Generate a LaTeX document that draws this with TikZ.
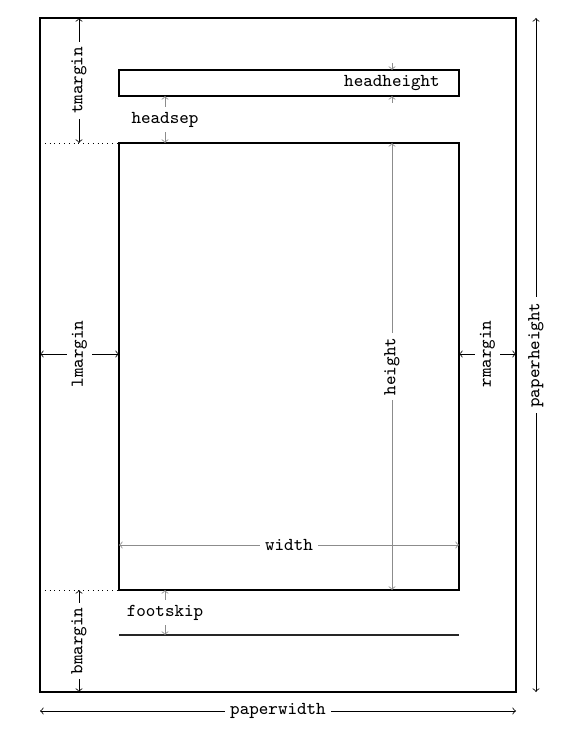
\documentclass[tikz,border=0pt]{standalone}
\begin{document}
\begin{tikzpicture}[
  x=0.5pt, y=-0.5pt,
  font=\fontsize{9.1}{11}\selectfont\ttfamily,
  frame/.style={draw, line width=1pt},
  margindim/.style={<->, black},
  innerdim/.style={<->, black!45},
  lbl/.style={fill=white, text=black, inner sep=2.5pt},
]
\useasboundingbox (0,0) rectangle (568,731);

% --- Paper, header, body and footer ---
\coordinate (paperNW) at (40,18);
\coordinate (paperSE) at (516,692);
\draw[frame] (paperNW) rectangle (paperSE);

\coordinate (headNW) at (119,70);
\coordinate (headSE) at (459,96);
\draw[frame] (headNW) rectangle (headSE);

\coordinate (bodyNW) at (119,143);
\coordinate (bodySW) at (119,590);
\coordinate (bodySE) at (459,590);
\draw[frame] (bodyNW) rectangle (bodySE);

\coordinate (footW) at (119,635);
\coordinate (footE) at (459,635);
\draw[line width=0.8pt, black!85] (footW) -- (footE);

% Dotted guides from the paper edge to the body
\coordinate (tGuide) at (40,143);
\coordinate (bGuide) at (40,590);
\draw[dotted] (tGuide) -- (bodyNW);
\draw[dotted] (bGuide) -- (bodySW);

% --- Margins and paper size ---
\coordinate (tmTop) at (79,18);
\coordinate (tmBot) at (79,143);
\draw[margindim] (tmTop) -- node[lbl, rotate=90] (tmarginLbl) {tmargin} (tmBot);

\coordinate (bmTop) at (79,590);
\coordinate (bmBot) at (79,692);
\draw[margindim] (bmTop) -- node[lbl, rotate=90] (bmarginLbl) {bmargin} (bmBot);

\coordinate (lmL) at (40,354);
\coordinate (lmR) at (119,354);
\draw[margindim] (lmL) -- node[lbl, rotate=90] (lmarginLbl) {lmargin} (lmR);

\coordinate (rmL) at (459,354);
\coordinate (rmR) at (516,354);
\draw[margindim] (rmL) -- node[lbl, rotate=90] (rmarginLbl) {rmargin} (rmR);

\coordinate (phTop) at (536,18);
\coordinate (phBot) at (536,692);
\draw[margindim] (phTop) -- node[lbl, rotate=90] (paperheightLbl) {paperheight} (phBot);

\coordinate (pwL) at (40,711);
\coordinate (pwR) at (516,711);
\draw[margindim] (pwL) -- node[lbl] (paperwidthLbl) {paperwidth} (pwR);

% --- Body dimensions ---
\coordinate (htTop) at (392,143);
\coordinate (htBot) at (392,590);
\draw[innerdim] (htTop) -- node[lbl, rotate=90] (heightLbl) {height} (htBot);

\coordinate (wdL) at (119,545);
\coordinate (wdR) at (459,545);
\draw[innerdim] (wdL) -- node[lbl] (widthLbl) {width} (wdR);

\coordinate (hsTop) at (165,96);
\coordinate (hsBot) at (165,143);
\draw[innerdim] (hsTop) -- node[lbl] (headsepLbl) {headsep} (hsBot);

\coordinate (fsTop) at (165,590);
\coordinate (fsBot) at (165,635);
\draw[innerdim] (fsTop) -- node[lbl] (footskipLbl) {footskip} (fsBot);

% headheight: short inward arrows on the header box
\coordinate (hhTop) at (392,70);
\coordinate (hhBot) at (392,96);
\coordinate (hhAbove) at (392,63);
\coordinate (hhBelow) at (392,103);
\draw[->, black!45] (hhAbove) -- (hhTop);
\draw[->, black!45] (hhBelow) -- (hhBot);
\node (headheightLbl) at (392,83) {headheight};

\end{tikzpicture}
\end{document}
